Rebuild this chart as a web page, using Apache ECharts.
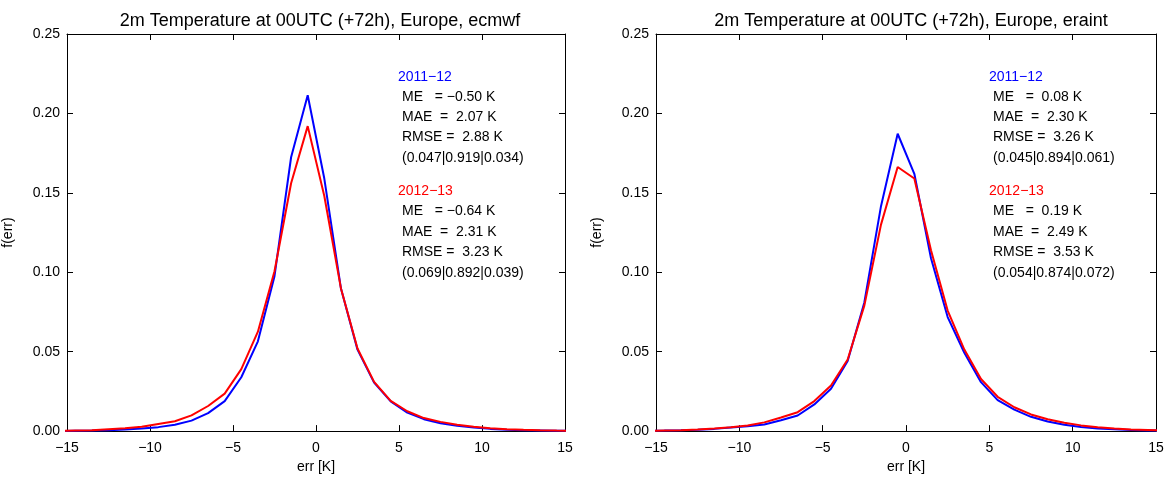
<!DOCTYPE html>
<html>
<head>
<meta charset="utf-8">
<title>2m Temperature error distributions</title>
<script src="https://cdn.jsdelivr.net/npm/echarts@6/dist/echarts.min.js"></script>
<style>
  html, body { margin: 0; padding: 0; background: #fff; }
  #chart { width: 1171px; height: 479px; }
</style>
</head>
<body>
<div id="chart"></div>
<script>
// Bin centres of the error histogram [K]
const errBins = [-15.5, -14.5, -13.5, -12.5, -11.5, -10.5, -9.5, -8.5, -7.5, -6.5, -5.5,
  -4.5, -3.5, -2.5, -1.5, -0.5, 0.5, 1.5, 2.5, 3.5, 4.5,
  5.5, 6.5, 7.5, 8.5, 9.5, 10.5, 11.5, 12.5, 13.5, 14.5, 15.5];

// ecmwf, winter 2011-12
const ecmwf2011 = [0.0001, 0.0002, 0.0003, 0.0006, 0.0010, 0.0016, 0.0025, 0.0040, 0.0066, 0.0113, 0.0189,
  0.0339, 0.0565, 0.0975, 0.1724, 0.2114, 0.1590, 0.0900, 0.0513, 0.0305, 0.0187,
  0.0116, 0.0075, 0.0049, 0.0033, 0.0022, 0.0014, 0.0009, 0.0006, 0.0004, 0.0002, 0.0001];
// ecmwf, winter 2012-13
const ecmwf2012 = [0.0002, 0.0004, 0.0006, 0.0012, 0.0018, 0.0028, 0.0045, 0.0062, 0.0099, 0.0158, 0.0236,
  0.0390, 0.0626, 0.1006, 0.1560, 0.1920, 0.1480, 0.0900, 0.0520, 0.0310, 0.0190,
  0.0125, 0.0082, 0.0058, 0.0040, 0.0027, 0.0018, 0.0012, 0.0008, 0.0005, 0.0003, 0.0002];
// eraint, winter 2011-12
const eraint2011 = [0.0002, 0.0003, 0.0005, 0.0009, 0.0014, 0.0022, 0.0030, 0.0042, 0.0068, 0.0098, 0.0168,
  0.0267, 0.0441, 0.0810, 0.1416, 0.1872, 0.1620, 0.1088, 0.0718, 0.0493, 0.0308,
  0.0195, 0.0135, 0.0090, 0.0060, 0.0040, 0.0026, 0.0017, 0.0011, 0.0007, 0.0004, 0.0003];
// eraint, winter 2012-13
const eraint2012 = [0.0002, 0.0004, 0.0006, 0.0010, 0.0016, 0.0024, 0.0035, 0.0055, 0.0086, 0.0119, 0.0189,
  0.0287, 0.0451, 0.0790, 0.1300, 0.1663, 0.1590, 0.1139, 0.0759, 0.0513, 0.0328,
  0.0216, 0.0150, 0.0105, 0.0075, 0.0052, 0.0036, 0.0024, 0.0016, 0.0010, 0.0007, 0.0004];

const panelTitles = [
  '2m Temperature at 00UTC (+72h), Europe, ecmwf',
  '2m Temperature at 00UTC (+72h), Europe, eraint'
];
const periods = ['2011\u221212', '2012\u221213'];

// Score blocks: [period][lines] per panel
const ecmwfScores = [
  ['ME   = \u22120.50 K', 'MAE  =  2.07 K', 'RMSE =  2.88 K', '(0.047|0.919|0.034)'],
  ['ME   = \u22120.64 K', 'MAE  =  2.31 K', 'RMSE =  3.23 K', '(0.069|0.892|0.039)']
];
const eraintScores = [
  ['ME   =  0.08 K', 'MAE  =  2.30 K', 'RMSE =  3.26 K', '(0.045|0.894|0.061)'],
  ['ME   =  0.19 K', 'MAE  =  2.49 K', 'RMSE =  3.53 K', '(0.054|0.874|0.072)']
];

const FONT = '"Liberation Sans", Arial, Helvetica, sans-serif';
const BLUE = '#0000ff';
const RED = '#ff0000';

const pair = (xs, ys) => xs.map((x, i) => [x, ys[i]]);
const fmtX = v => (v < 0 ? '\u2212' + Math.abs(v) : String(v));

const grids = [
  { left: 65, right: 606, top: 34, bottom: 39 },
  { left: 656, right: 15, top: 34, bottom: 39 }
];

function xAxes(gi) {
  const common = {
    type: 'value', gridIndex: gi, min: -15, max: 15, interval: 5,
    axisLine: { show: true, onZero: false, lineStyle: { color: '#000', width: 1 } },
    axisTick: { show: true, inside: true, length: 6, lineStyle: { color: '#000' } },
    splitLine: { show: false }
  };
  return [
    Object.assign({}, common, {
      position: 'bottom', name: 'err [K]', nameLocation: 'middle', nameGap: 28,
      nameTextStyle: { fontFamily: FONT, fontSize: 14, color: '#000' },
      axisLabel: { formatter: fmtX, fontFamily: FONT, fontSize: 14, color: '#000', margin: 10 }
    }),
    Object.assign({}, common, { position: 'top', axisLabel: { show: false } })
  ];
}
function yAxes(gi) {
  const common = {
    type: 'value', gridIndex: gi, min: 0, max: 0.25, interval: 0.05,
    axisLine: { show: true, onZero: false, lineStyle: { color: '#000', width: 1 } },
    axisTick: { show: true, inside: true, length: 6, lineStyle: { color: '#000' } },
    splitLine: { show: false }
  };
  return [
    Object.assign({}, common, {
      position: 'left', name: 'f(err)', nameLocation: 'middle', nameGap: 52,
      nameTextStyle: { fontFamily: FONT, fontSize: 14, color: '#000' },
      axisLabel: { formatter: v => v.toFixed(2), fontFamily: FONT, fontSize: 14, color: '#000', margin: 7 }
    }),
    Object.assign({}, common, { position: 'right', axisLabel: { show: false } })
  ];
}

function lineSeries(xi, yi, data, color, z) {
  return {
    type: 'line', xAxisIndex: xi, yAxisIndex: yi, data: data,
    showSymbol: false, symbol: 'none', smooth: false, clip: true, z: z,
    lineStyle: { color: color, width: 2 }, itemStyle: { color: color },
    animation: false
  };
}

// Score annotations, placed inside each panel
function scoreTexts(left, scores) {
  const rows = [
    [77, 97, 117, 137, 158],
    [191, 211, 232, 252, 273]
  ];
  const out = [];
  scores.forEach((block, p) => {
    out.push({
      type: 'text', x: left, y: rows[p][0],
      style: { text: periods[p], fill: p === 0 ? BLUE : RED, font: '14px ' + FONT, verticalAlign: 'middle' }
    });
    block.forEach((line, k) => {
      out.push({
        type: 'text', x: left + 4, y: rows[p][k + 1],
        style: { text: line, fill: '#000', font: '14px ' + FONT, verticalAlign: 'middle' }
      });
    });
  });
  return out;
}

const chart = echarts.init(document.getElementById('chart'), null, { renderer: 'canvas' });
chart.setOption({
  animation: false,
  backgroundColor: '#fff',
  title: [
    { text: panelTitles[0], left: 315, top: 7, textAlign: 'center',
      textStyle: { fontFamily: FONT, fontSize: 18, fontWeight: 'normal', color: '#000' } },
    { text: panelTitles[1], left: 906, top: 7, textAlign: 'center',
      textStyle: { fontFamily: FONT, fontSize: 18, fontWeight: 'normal', color: '#000' } }
  ],
  grid: grids,
  xAxis: xAxes(0).concat(xAxes(1)),
  yAxis: yAxes(0).concat(yAxes(1)),
  series: [
    lineSeries(0, 0, pair(errBins, ecmwf2011), BLUE, 2),
    lineSeries(0, 0, pair(errBins, ecmwf2012), RED, 3),
    lineSeries(2, 2, pair(errBins, eraint2011), BLUE, 2),
    lineSeries(2, 2, pair(errBins, eraint2012), RED, 3)
  ],
  graphic: scoreTexts(398, ecmwfScores).concat(scoreTexts(989, eraintScores))
});
</script>
</body>
</html>
